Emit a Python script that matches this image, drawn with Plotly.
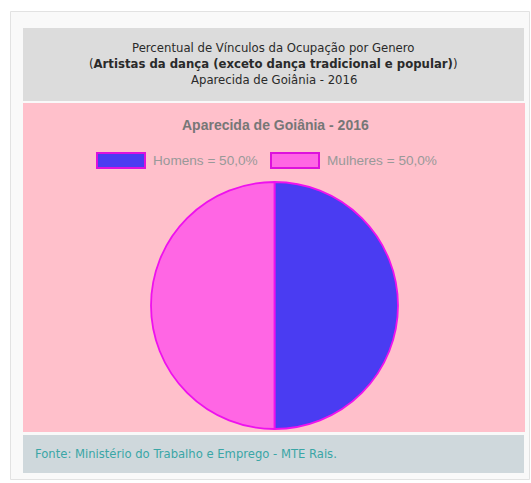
import plotly.graph_objects as go

# Data
labels = ["Homens", "Mulheres"]
values = [50.0, 50.0]
slice_colors = ["#4a3cf2", "#ff66e4"]
header_lines = [
    "Percentual de Vínculos da Ocupação por Genero",
    "(<b>Artistas da dança (exceto dança tradicional e popular)</b>)",
    "Aparecida de Goiânia - 2016",
]
chart_title = "Aparecida de Goiânia - 2016"
source_text = "Fonte: Ministério do Trabalho e Emprego - MTE Rais."

W, H = 531, 483


def px(x):
    return x / W


def py(y):
    return 1 - y / H


def rect(x0, y0, x1, y1, fill, line=None, lw=0):
    return dict(type="rect", xref="paper", yref="paper",
                x0=px(x0), x1=px(x1), y0=py(y1), y1=py(y0),
                fillcolor=fill, line=dict(color=line or fill, width=lw),
                layer="below")


fig = go.Figure()

fig.add_trace(go.Pie(
    labels=labels,
    values=values,
    sort=False,
    direction="clockwise",
    rotation=0,
    textinfo="none",
    hoverinfo="label+percent",
    marker=dict(colors=slice_colors, line=dict(color="#ee11ee", width=1.8)),
    domain=dict(x=[px(151), px(398)], y=[py(429), py(182)]),
    showlegend=False,
))

shapes = [
    rect(10.5, 11.5, 529.5, 479.5, "#f9f9f9", "#e2e2e2", 1),
    rect(23, 28, 524, 101, "#dcdcdc"),
    rect(23, 103, 525, 432, "#ffc0cb"),
    rect(23, 435, 524, 473, "#cfd8dc"),
]

annotations = []
for i, line in enumerate(header_lines):
    annotations.append(dict(
        x=px(274), y=py(48 + i * 16), xref="paper", yref="paper",
        text=line, showarrow=False, xanchor="center", yanchor="middle",
        font=dict(family="DejaVu Sans", size=11.7, color="#2a2a2a"),
    ))

annotations.append(dict(
    x=px(275), y=py(125), xref="paper", yref="paper",
    text=f"<b>{chart_title}</b>", showarrow=False,
    xanchor="center", yanchor="middle",
    font=dict(family="Liberation Sans", size=14, color="#777777"),
))

# Legend drawn as swatches with "label = value%" text
legend_x = [97, 271]
for lx, lab, val, col in zip(legend_x, labels, values, slice_colors):
    shapes.append(dict(type="rect", xref="paper", yref="paper",
                       x0=px(lx), x1=px(lx + 48), y0=py(168), y1=py(153),
                       fillcolor=col, line=dict(color="#dd11dd", width=2)))
    annotations.append(dict(
        x=px(lx + 54), y=py(160.5), xref="paper", yref="paper",
        text=f"{lab} = {val:.1f}%".replace(".", ","), showarrow=False,
        xanchor="left", yanchor="middle",
        font=dict(family="Liberation Sans", size=13.6, color="#999999"),
    ))

annotations.append(dict(
    x=px(33), y=py(454), xref="paper", yref="paper",
    text=source_text, showarrow=False, xanchor="left", yanchor="middle",
    font=dict(family="DejaVu Sans", size=11.6, color="#3aa6a6"),
))

fig.update_layout(
    width=W, height=H,
    margin=dict(l=0, r=0, t=0, b=0),
    paper_bgcolor="white",
    plot_bgcolor="white",
    shapes=shapes,
    annotations=annotations,
)

fig.write_html("out.html")
